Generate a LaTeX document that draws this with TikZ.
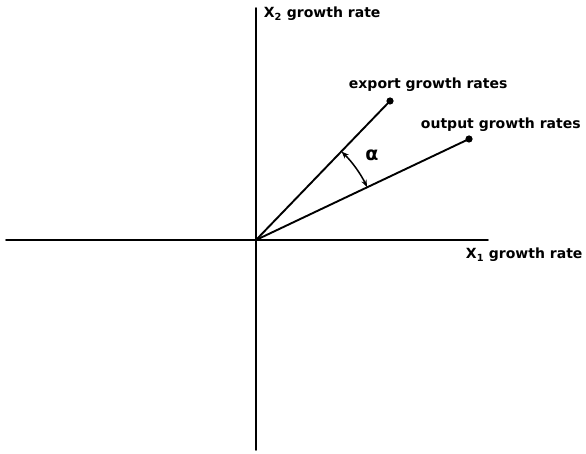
\documentclass[tikz,border=0pt]{standalone}
\usepackage{amsmath,amssymb}
\usepackage{fontspec}
\setmainfont{DejaVu Sans}
\usetikzlibrary{arrows.meta}

\begin{document}
\begin{tikzpicture}[x=1pt,y=1pt,>={Stealth[length=2.6mm,width=1.9mm]},line width=1.9pt,line cap=round,
  lab/.style={anchor=base west,inner sep=0pt,font=\fontsize{14}{16}\selectfont\bfseries}]
\useasboundingbox (0,0) rectangle (586,453);
% axes
\coordinate (O) at (256,213);
\coordinate (xl) at (6,213);
\coordinate (xr) at (488,213);
\coordinate (yb) at (256,3);
\coordinate (yt) at (256,445);
\draw (xl) -- (xr);
\draw (yb) -- (yt);
% growth rate vectors
\coordinate (E) at (390,352);
\coordinate (U) at (469,314);
\draw (O) -- (E);
\draw (O) -- (U);
\fill (E) circle (3.6pt);
\fill (U) circle (3.6pt);
\draw[<->,line width=1.5pt] ([shift={(46:123pt)}]O) arc[start angle=46,end angle=25.4,radius=123pt];
% labels
\node[lab] (xtwo) at (263,435) {X\textsubscript{2} growth rate};
\node[lab] (exl) at (348,364) {export growth rates};
\node[lab] (outl) at (420,324) {output growth rates};
\node[lab] (xone) at (465,194) {X\textsubscript{1} growth rate};
\node[inner sep=0pt,font=\fontsize{19}{21}\selectfont\bfseries] (alpha) at (372,298) {α};
\end{tikzpicture}
\end{document}
